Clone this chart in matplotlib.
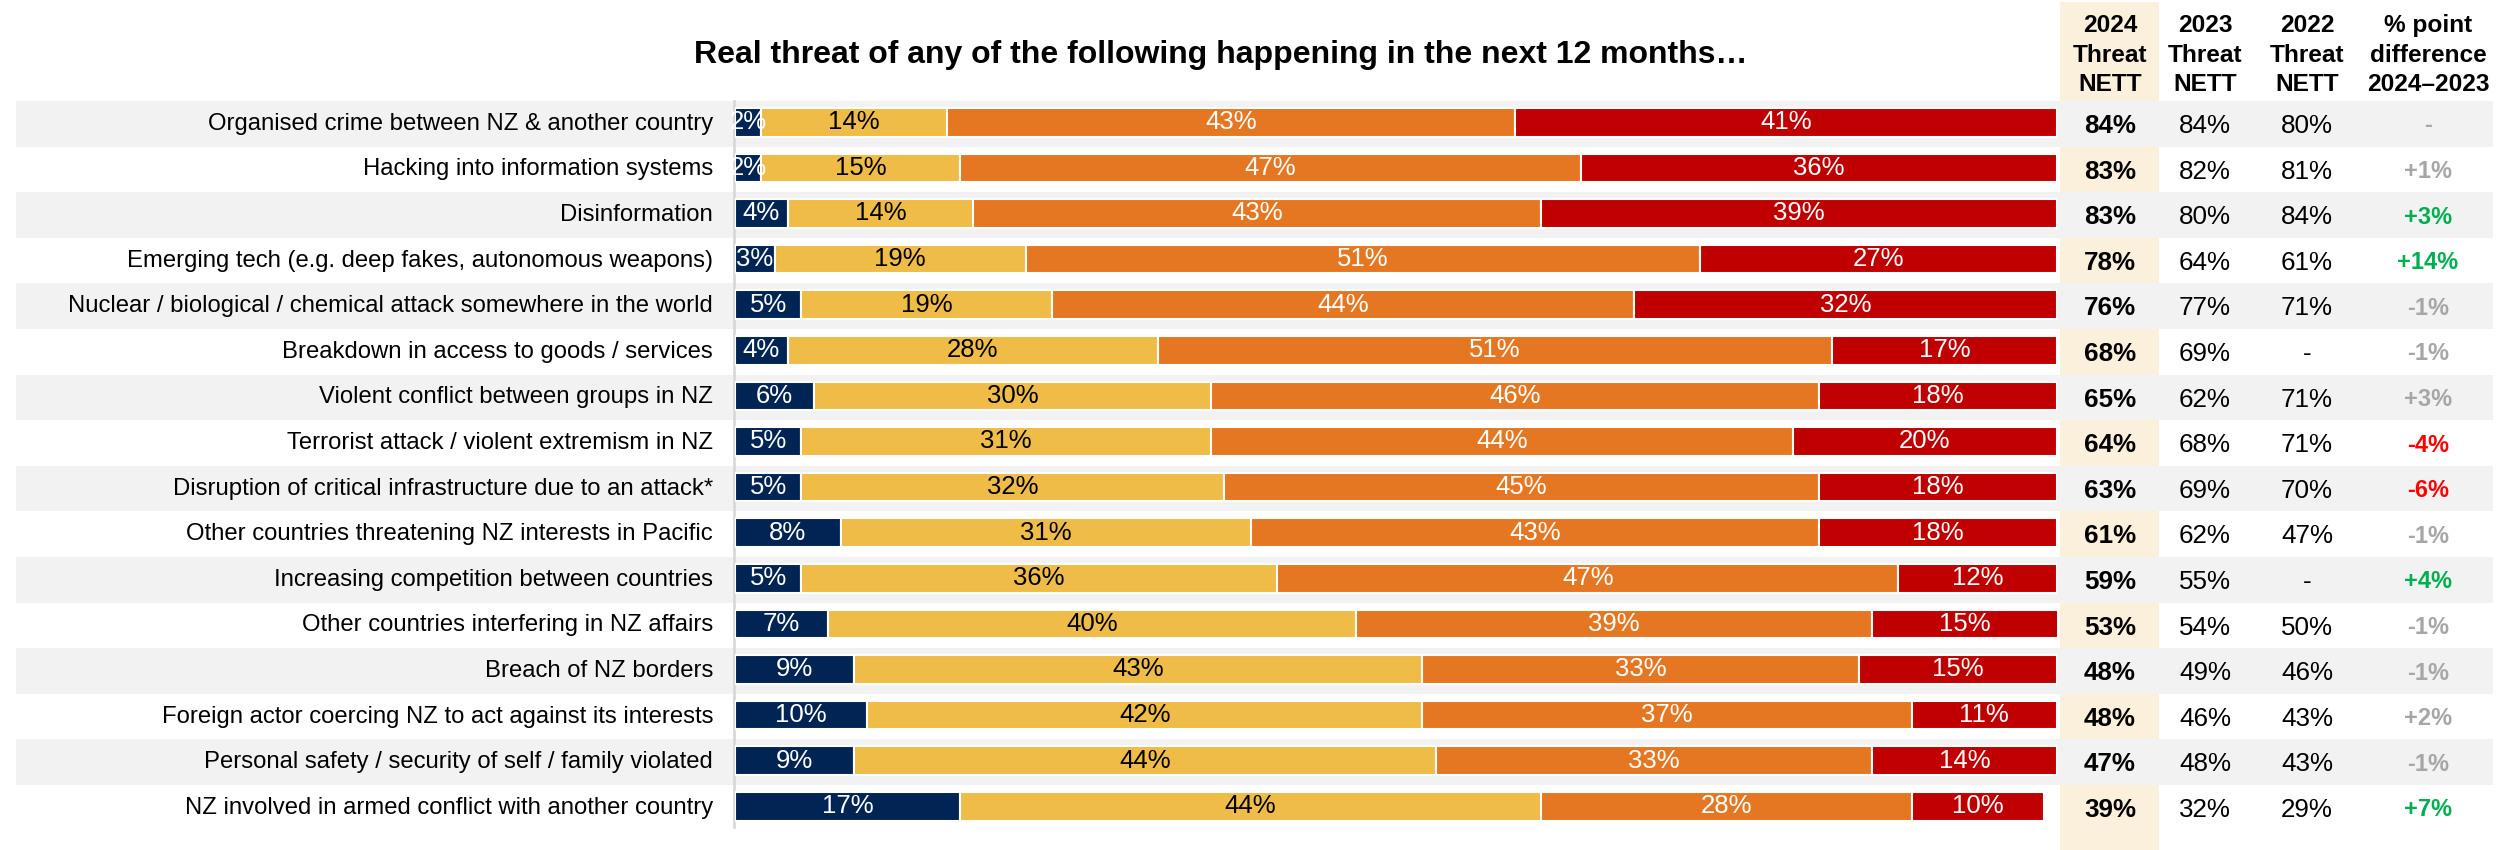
import matplotlib
matplotlib.use("Agg")
import matplotlib.pyplot as plt
from matplotlib.patches import Rectangle
from matplotlib import transforms

plt.rcParams['font.family'] = ['Liberation Sans', 'DejaVu Sans']

# ---- data -------------------------------------------------------------
categories = [
    "Organised crime between NZ & another country",
    "Hacking into information systems",
    "Disinformation",
    "Emerging tech (e.g. deep fakes, autonomous weapons)",
    "Nuclear / biological / chemical attack somewhere in the world",
    "Breakdown in access to goods / services",
    "Violent conflict between groups in NZ",
    "Terrorist attack / violent extremism in NZ",
    "Disruption of critical infrastructure due to an attack*",
    "Other countries threatening NZ interests in Pacific",
    "Increasing competition between countries",
    "Other countries interfering in NZ affairs",
    "Breach of NZ borders",
    "Foreign actor coercing NZ to act against its interests",
    "Personal safety / security of self / family violated",
    "NZ involved in armed conflict with another country",
]
not_a_threat = [2, 2, 4, 3, 5, 4, 6, 5, 5, 8, 5, 7, 9, 10, 9, 17]
minor_threat = [14, 15, 14, 19, 19, 28, 30, 31, 32, 31, 36, 40, 43, 42, 44, 44]
moderate_threat = [43, 47, 43, 51, 44, 51, 46, 44, 45, 43, 47, 39, 33, 37, 33, 28]
major_threat = [41, 36, 39, 27, 32, 17, 18, 20, 18, 18, 12, 15, 15, 11, 14, 10]

nett_2024 = ["84%", "83%", "83%", "78%", "76%", "68%", "65%", "64%",
             "63%", "61%", "59%", "53%", "48%", "48%", "47%", "39%"]
nett_2023 = ["84%", "82%", "80%", "64%", "77%", "69%", "62%", "68%",
             "69%", "62%", "55%", "54%", "49%", "46%", "48%", "32%"]
nett_2022 = ["80%", "81%", "84%", "61%", "71%", "-", "71%", "71%",
             "70%", "47%", "-", "50%", "46%", "43%", "43%", "29%"]
point_diff = ["-", "+1%", "+3%", "+14%", "-1%", "-1%", "+3%", "-4%",
              "-6%", "-1%", "+4%", "-1%", "-1%", "+2%", "-1%", "+7%"]
# 1 = significant rise, -1 = significant fall, 0 = no significant change
diff_significance = [0, 0, 1, 1, 0, 0, 0, -1, -1, 0, 1, 0, 0, 0, 0, 1]

title = "Real threat of any of the following happening in the next 12 months\u2026"
column_headers = ["2024\nThreat\nNETT", "2023\nThreat\nNETT",
                  "2022\nThreat\nNETT", "% point\ndifference\n2024\u20132023"]

# ---- style ------------------------------------------------------------
NAVY = "#002554"
YELLOW = "#F0BC48"
ORANGE = "#E67722"
RED = "#C00000"
BAND = "#F2F2F2"
BEIGE = "#FBF0DC"
DIFF_COLOURS = {0: "#A6A6A6", 1: "#00B050", -1: "#FF0000"}

W, H = 2514, 850
fig = plt.figure(figsize=(W / 100, H / 100), dpi=100)

bar_left, bar_right = 735, 2057
ax = fig.add_axes([bar_left / W, 0, (bar_right - bar_left) / W, 1])
ax.set_axis_off()
ax.set_xlim(0, 100)

pitch = 45.6          # pixels per row
first_row = 122.3     # pixel centre of the first bar
ax.set_ylim((H - first_row) / pitch, -first_row / pitch)

n = len(categories)
rows = list(range(n))
blend = transforms.blended_transform_factory(fig.transFigure, ax.transData)
band_shift = 0.035
text_shift = 0.08

# 2024 highlight column
y_top = -(first_row - 2) / pitch
y_bot = (H - first_row) / pitch
ax.add_patch(Rectangle((2060 / W, y_top), 99 / W, y_bot - y_top,
                       transform=blend, facecolor=BEIGE, edgecolor="none",
                       zorder=0, clip_on=False))

# alternating row bands
for i in rows:
    if i % 2 == 0:
        ax.add_patch(Rectangle((16 / W, i - 0.5 + band_shift), (2493 - 16) / W,
                               1.0, transform=blend, facecolor=BAND,
                               edgecolor="none", zorder=0.5, clip_on=False))

# axis line at the start of the bars
ax.plot([-0.1, -0.1], [-0.5 + band_shift, n - 0.55], color="#D9D9D9", lw=2,
        zorder=1, clip_on=False)

# stacked bars
series = [(not_a_threat, NAVY, "white"),
          (minor_threat, YELLOW, "black"),
          (moderate_threat, ORANGE, "white"),
          (major_threat, RED, "white")]
left = [0] * n
for values, colour, text_colour in series:
    bars = ax.barh(rows, values, left=left, height=0.625, color=colour,
                   edgecolor="white", linewidth=1.5, zorder=2)
    labels = [f"{v}%" for v in values]
    ax.bar_label(bars, labels=labels, label_type="center", color=text_colour,
                 fontsize=18.5, zorder=3)
    left = [l + v for l, v in zip(left, values)]

# row labels
for i, cat in enumerate(categories):
    ax.text(713 / W, i + band_shift, cat, transform=blend, ha="right",
            va="center", fontsize=17.2, color="black")

# title
fig.text(1221 / W, 1 - 62.7 / H, title, ha="center", va="baseline",
         fontsize=23, fontweight="bold", color="black")

# table columns
col_x = [2110, 2205, 2307, 2428]
header_y = -(first_row - 55) / pitch
for x, head in zip(col_x, column_headers):
    ax.text(x / W, header_y, head, transform=blend, ha="center", va="center",
            fontsize=17.6, fontweight="bold", linespacing=1.38, color="black")

for i in rows:
    y = i + text_shift
    ax.text(col_x[0] / W, y, nett_2024[i], transform=blend, ha="center",
            va="center", fontsize=18.7, fontweight="bold", color="black")
    ax.text(col_x[1] / W, y, nett_2023[i], transform=blend, ha="center",
            va="center", fontsize=18.7, color="black")
    ax.text(col_x[2] / W, y, nett_2022[i], transform=blend, ha="center",
            va="center", fontsize=18.7, color="black")
    ax.text(col_x[3] / W, y, point_diff[i], transform=blend, ha="center",
            va="center", fontsize=17, fontweight="bold",
            color=DIFF_COLOURS[diff_significance[i]])

fig.savefig("out.png", dpi=100, facecolor="white")
